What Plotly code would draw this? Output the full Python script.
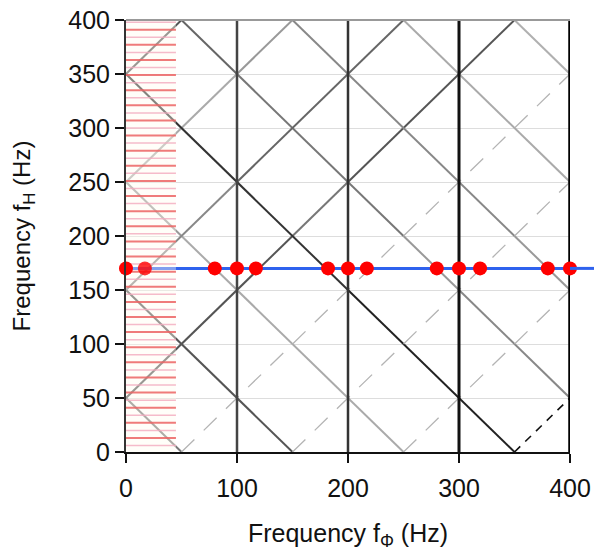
import plotly.graph_objects as go

# ---------------- data ----------------
axis_range = [0, 400]
x_ticks = [0, 100, 200, 300, 400]
y_ticks = [0, 50, 100, 150, 200, 250, 300, 350, 400]
vertical_lines_x = [100, 200, 300, 400]          # multiples of sampling frequency
band_edges = [0, 50, 100, 150, 200, 250, 300, 350, 400]
down_offsets = [50, 150, 250, 350, 450, 550, 650, 750]     # fH = c - fPhi
up_offsets = [350, 250, 150, 50, -50, -150, -250, -350]    # fH = fPhi + c
signal_freq = 170
dot_x = [0, 17, 80, 100, 117, 182, 200, 217, 280, 300, 319, 380, 400]
stripe_x = [0, 45]
stripe_red_y = [13, 27, 41, 55, 69, 83, 97, 111, 125, 139, 153, 167, 181, 195,
                209, 223, 237, 251, 265, 279, 293, 307, 321, 335, 349, 363, 377, 391]
stripe_pink_y = [6, 20, 34, 48, 62, 76, 90, 104, 118, 132, 146, 160, 174, 188,
                 202, 216, 230, 244, 258, 272, 286, 300, 314, 328, 342, 356, 370, 384, 398]

# ---------------- styles (per 50 Hz band) ----------------
N = None
down_styles = {
    50:  ['#777'],
    150: ['#555', '#555', '#555'],
    250: ['#999', '#aaa', '#aaa', '#aaa', '#aaa'],
    350: ['#333', '#333', '#333', '#333', '#222', '#222', '#222'],
    450: [N, '#666', '#777', '#777', '#777', '#999', '#888', '#888'],
    550: [N, N, N, '#888', '#888', '#888', '#888', '#999'],
    650: [N, N, N, N, N, '#aaa', '#aaa', '#aaa'],
    750: [N, N, N, N, N, N, N, '#b0b0b0'],
}
up_styles = {
    350: ['#555'],
    250: ['#aaa', '#aaa', '#999'],
    150: ['#888', '#888', '#666', '#666', '#666'],
    50:  ['#555', '#555', '#555', '#777', '#555', '#555', '#555'],
    -50: [N, 'faint', 'faint', 'faint', 'faint', 'faint', 'faint', 'faint'],
    -150: [N, N, N, 'faint', 'faint', 'faint', 'faint', 'faint'],
    -250: [N, N, N, N, N, 'faint', 'faint', 'faint'],
    -350: [N, N, N, N, N, N, N, 'blackdash'],
}
special = {
    'faint': dict(color='#b4b4b4', width=1.3, dash='18px,13px'),
    'blackdash': dict(color='#111111', width=1.6, dash='8px,7px'),
}

# build segments grouped by style
groups = {}
def add_line(slope, offset, styles):
    runs = []
    for b, st in enumerate(styles):
        if st is None:
            continue
        x0, x1 = band_edges[b], band_edges[b + 1]
        if runs and runs[-1][2] == st and runs[-1][1] == x0:
            runs[-1][1] = x1
        else:
            runs.append([x0, x1, st])
    for x0, x1, st in runs:
        g = groups.setdefault(st, ([], []))
        g[0].extend([x0, x1, None])
        g[1].extend([slope * x0 + offset, slope * x1 + offset, None])

for c in down_offsets:
    add_line(-1, c, down_styles[c])
for c in up_offsets:
    add_line(1, c, up_styles[c])

fig = go.Figure()

# diagonal alias lines
for st, (xs, ys) in groups.items():
    if st in special:
        line = special[st]
    else:
        line = dict(color=st, width=2)
    fig.add_trace(go.Scatter(x=xs, y=ys, mode='lines', line=line,
                             hoverinfo='skip', showlegend=False))

# vertical lines at multiples of fs
v_colors = ['#444444', '#333333', '#111111', '#000000']
v_widths = [2.5, 2.5, 3, 3.5]
for vx, col, w in zip(vertical_lines_x, v_colors, v_widths):
    fig.add_trace(go.Scatter(x=[vx, vx], y=axis_range, mode='lines',
                             line=dict(color=col, width=w), showlegend=False))

# blue signal line
fig.add_trace(go.Scatter(x=axis_range, y=[signal_freq, signal_freq], mode='lines',
                         line=dict(color='#2f62ee', width=3), showlegend=False))

# striped region overlay
fig.add_trace(go.Scatter(x=[stripe_x[0], stripe_x[1], stripe_x[1], stripe_x[0], stripe_x[0]],
                         y=[axis_range[0], axis_range[0], axis_range[1], axis_range[1], axis_range[0]],
                         mode='lines', fill='toself', fillcolor='rgba(255,252,240,0.4)',
                         line=dict(width=0), showlegend=False, hoverinfo='skip'))
def stripe_trace(ys, color, width):
    xs, yy = [], []
    for y in ys:
        xs.extend([stripe_x[0], stripe_x[1], None])
        yy.extend([y, y, None])
    return go.Scatter(x=xs, y=yy, mode='lines', line=dict(color=color, width=width),
                      showlegend=False, hoverinfo='skip')
fig.add_trace(stripe_trace(stripe_pink_y, 'rgba(242,170,190,0.8)', 1.5))
fig.add_trace(stripe_trace(stripe_red_y, 'rgba(236,100,100,0.85)', 2))

# red dots
dot_opacity = [1 if x > stripe_x[1] or x == 0 else 0.8 for x in dot_x]
fig.add_trace(go.Scatter(x=dot_x, y=[signal_freq] * len(dot_x), mode='markers',
                         marker=dict(color='#ff0000', size=14, opacity=dot_opacity,
                                     line=dict(width=0)),
                         cliponaxis=False, showlegend=False))

font = 'Liberation Sans, Arial, sans-serif'
fig.update_layout(
    width=594, height=551,
    margin=dict(l=126, r=24, t=20, b=99, autoexpand=False),
    paper_bgcolor='white', plot_bgcolor='white',
    font=dict(family=font, color='#111111', size=24),
    xaxis=dict(range=axis_range, tickvals=x_ticks, showgrid=False, zeroline=False,
               ticks='outside', ticklen=9, tickwidth=2, tickcolor='#111',
               showline=True, linecolor='#111', linewidth=2,
               tickfont=dict(size=25), ticklabelstandoff=4,
               title=dict(text='Frequency f<sub>Φ</sub> (Hz)', font=dict(size=25), standoff=26)),
    yaxis=dict(range=axis_range, tickvals=y_ticks, showgrid=True, gridcolor='#dddddd',
               gridwidth=1, zeroline=False,
               ticks='outside', ticklen=9, tickwidth=2, tickcolor='#111',
               showline=True, linecolor='#333', linewidth=2,
               tickfont=dict(size=25),
               title=dict(text='Frequency f<sub>H</sub> (Hz)', font=dict(size=24), standoff=31)),
    shapes=[
        dict(type='line', xref='paper', yref='paper', x0=0, x1=1, y0=1, y1=1,
             line=dict(color='#999999', width=2)),
        dict(type='line', xref='paper', yref='y', x0=1, x1=1.06,
             y0=signal_freq, y1=signal_freq, line=dict(color='#2f62ee', width=3)),
    ],
)

fig.write_html('out.html', config={'displayModeBar': False},
               post_script="document.body.style.margin='0';")
